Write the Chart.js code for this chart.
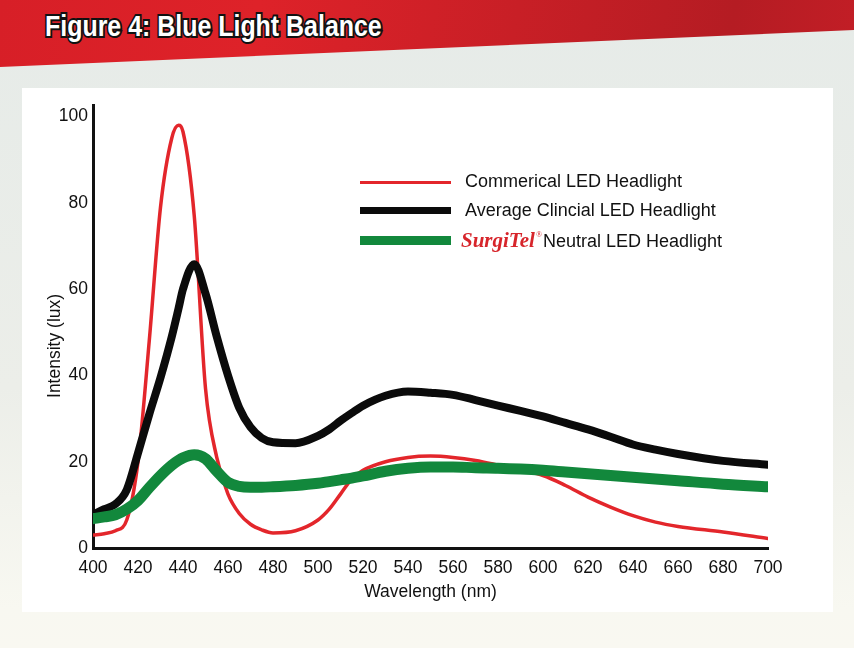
<!DOCTYPE html>
<html>
<head>
<meta charset="utf-8">
<script src="https://cdn.jsdelivr.net/npm/chart.js@4"></script>
<style>
  html, body { margin: 0; padding: 0; }
  body {
    width: 854px; height: 648px; position: relative; overflow: hidden;
    background: linear-gradient(#e6ebe8 0%, #eceee9 60%, #f8f8f1 94%, #f9f8f1 100%);
    font-family: "Liberation Sans", Arial, sans-serif;
  }
  #band {
    position: absolute; left: 0; top: 0; width: 854px; height: 70px;
    background: linear-gradient(100deg, #d71f27 0%, #de2229 30%, #c81f26 60%, #b51c23 85%, #c21e26 100%);
    clip-path: polygon(0 0, 854px 0, 854px 30px, 0 67px);
  }
  #title {
    position: absolute; left: 45px; top: 10px;
    font-family: "Liberation Sans", Arial, sans-serif;
    font-weight: bold; font-size: 29px; color: #fff;
    -webkit-text-stroke: 4px #111; paint-order: stroke fill;
    transform: scaleX(0.86); transform-origin: 0 0;
    white-space: nowrap;
  }
  #panel {
    position: absolute; left: 22px; top: 88px; width: 811px; height: 524px; background: #fff;
  }
  #panel canvas { position: absolute; left: 0; top: 0; }
  .lg { position: absolute; left: 338px; height: 20px; }
  .lg .sw { position: absolute; left: 0; width: 91px; }
  .lg .tx { position: absolute; left: 105px; top: -1px; font-size: 18px; color: #111; white-space: nowrap; }
  .sg { font-family: "Liberation Serif", "Times New Roman", serif; font-style: italic; font-weight: bold;
        color: #d7252b; font-size: 21px; }
  .sg sup { font-size: 8px; font-style: normal; font-weight: normal; vertical-align: 10px; margin: 0 1px 0 1px; }
</style>
</head>
<body>
<div id="band"></div>
<div id="title">Figure 4: Blue Light Balance</div>
<div id="panel">
  <canvas id="chart" width="811" height="524"></canvas>
  <div class="lg" style="top:84px"><div class="sw" style="top:9px;height:3px;background:#e3262b"></div><div class="tx">Commerical LED Headlight</div></div>
  <div class="lg" style="top:113px"><div class="sw" style="top:6px;height:7px;background:#0b0b0b"></div><div class="tx">Average Clincial LED Headlight</div></div>
  <div class="lg" style="top:143px"><div class="sw" style="top:5px;height:9px;background:#12883c"></div><div class="tx" style="left:101px;top:-3px"><span class="sg">SurgiTel<sup>®</sup></span>Neutral LED Headlight</div></div>
</div>
<script>
// wavelength samples (nm)
var wavelengths = [400,405,410,415,420,425,430,435,438,440,445,450,455,460,465,470,475,480,490,500,505,510,515,520,530,540,550,560,570,580,590,600,610,620,630,640,650,660,680,700];

var commercial = [3,3.3,4,6.5,20,48,79,95,98,96.5,77,37,21,12.5,8,5.5,4.2,3.5,4,6.5,9,12.5,16,18,20,21,21.3,21,20.3,19.2,18,16.8,14.5,11.8,9.5,7.5,6,5,3.7,2.2];
var clinical   = [7.7,9,10.2,13.5,22,31,39.5,49,55.5,60,65.8,59,49,40,32.5,28,25.5,24.5,24.3,26,27.5,29.5,31.3,33,35.3,36.3,36,35.5,34.3,33,31.8,30.5,29,27.5,25.8,24,22.8,21.8,20.2,19.3];
var surgitel   = [6.8,7.2,7.7,9,11,14,16.8,19.2,20.3,20.9,21.6,20.7,17.8,15.2,14.3,14.1,14.1,14.2,14.5,15,15.4,15.8,16.2,16.7,17.8,18.5,18.8,18.8,18.6,18.5,18.3,18,17.6,17.2,16.8,16.4,16,15.6,14.8,14.2];

var xTicks = [400,420,440,460,480,500,520,540,560,580,600,620,640,660,680,700];
var yTicks = [0,20,40,60,80,100];

function pts(vals) {
  return wavelengths.map(function (w, i) { return {x: w, y: vals[i]}; });
}

var tickFont = {family: "'Liberation Sans', Arial, sans-serif", size: 17.5};

new Chart(document.getElementById('chart').getContext('2d'), {
  type: 'line',
  data: {
    datasets: [
      {label: 'Commerical LED Headlight', data: pts(commercial), borderColor: '#e3262b', borderWidth: 3.5, order: 3},
      {label: 'Average Clincial LED Headlight', data: pts(clinical), borderColor: '#0b0b0b', borderWidth: 8, order: 2},
      {label: 'SurgiTel Neutral LED Headlight', data: pts(surgitel), borderColor: '#12883c', borderWidth: 11, order: 1}
    ]
  },
  options: {
    responsive: false,
    animation: false,
    devicePixelRatio: 1,
    layout: {padding: {left: 0, right: 65, top: 17, bottom: 0}},
    elements: {
      point: {radius: 0},
      line: {cubicInterpolationMode: 'monotone', borderCapStyle: 'round', borderJoinStyle: 'round'}
    },
    plugins: {legend: {display: false}, tooltip: {enabled: false}},
    scales: {
      x: {
        type: 'linear', min: 400, max: 700,
        grid: {display: false, drawTicks: false},
        border: {display: true, color: '#111', width: 3},
        afterBuildTicks: function (s) { s.ticks = xTicks.map(function (v) { return {value: v}; }); },
        afterFit: function (s) { s.height = 64; },
        ticks: {color: '#111', font: tickFont, padding: 10, autoSkip: false, maxRotation: 0},
        title: {display: true, text: 'Wavelength (nm)', color: '#111', font: tickFont, padding: {top: 0, bottom: 9}}
      },
      y: {
        min: 0, max: 102.7,
        grid: {display: false, drawTicks: false},
        border: {display: true, color: '#111', width: 3},
        afterBuildTicks: function (s) { s.ticks = yTicks.map(function (v) { return {value: v}; }); },
        afterFit: function (s) { s.width = 71; },
        ticks: {color: '#111', font: tickFont, padding: 5},
        // trailing spaces push the rotated title a little below the axis centre, as in the original
        title: {display: true, text: 'Intensity (lux)' + '\u00a0'.repeat(8), color: '#111', font: tickFont, padding: {top: 23, bottom: 0}}
      }
    }
  }
});
</script>
</body>
</html>
